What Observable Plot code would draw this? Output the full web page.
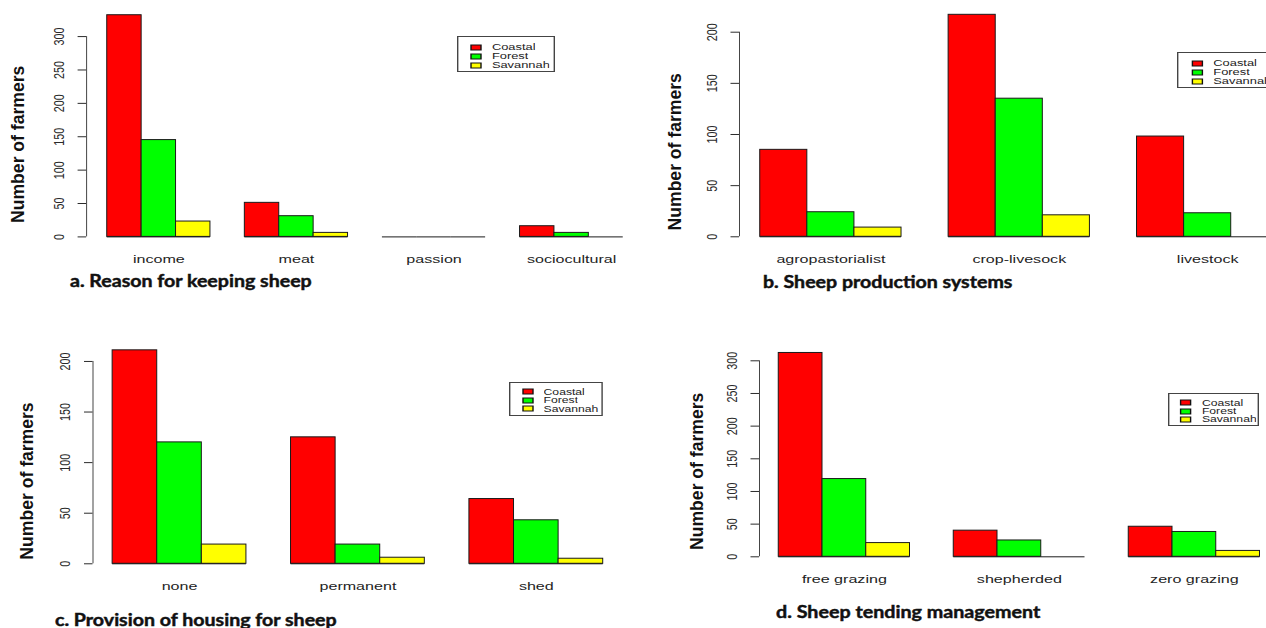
<!DOCTYPE html>
<html><head><meta charset="utf-8">
<script src="https://cdn.jsdelivr.net/npm/d3@7"></script>
<script src="https://cdn.jsdelivr.net/npm/@observablehq/plot@0.6"></script>
<style>
html,body{margin:0;padding:0;background:#fff;overflow:hidden;}
#page{position:relative;width:1266px;height:628px;overflow:hidden;background:#fff;}
.panel{position:absolute;width:800px;}
.panel svg{display:block;overflow:visible;max-width:none !important;}
.title{position:absolute;white-space:nowrap;font-family:Lato,"Open Sans",sans-serif;font-weight:700;color:#111;line-height:1.2;transform-origin:0 0;-webkit-text-stroke:0.45px #111;}
.legbox{position:absolute;border:1px solid #444;background:#fff;box-sizing:border-box;transform-origin:0 0;}
.legbox .lg-swatches{margin:0;font-family:"Liberation Sans",Arial,sans-serif;color:#222;}
.legbox .lg-swatch{display:flex;align-items:center;padding:0;margin:0;height:var(--row);line-height:var(--row);}
.legbox .lg-swatch > svg{overflow:visible;margin-right:8px;}
.legbox .lg-swatch > svg rect{stroke:#111;stroke-width:1;}
</style></head><body><div id="page"></div>
<script>
// ---------- data ----------
const regions = ["Coastal", "Forest", "Savannah"];
const regionColors = ["#ff0000", "#00ff00", "#ffff00"];
const yLabel = "Number of farmers";

const reasonCats = ["income", "meat", "passion", "sociocultural"];
const reasonCoastal = [332, 51, 0, 16];
const reasonForest = [145, 31, 0, 6];
const reasonSavannah = [23, 6, 0, 0];
const reasonTicks = [0, 50, 100, 150, 200, 250, 300];
const reasonTitle = "a. Reason for keeping sheep";

const systemCats = ["agropastorialist", "crop-livesock", "livestock"];
const systemCoastal = [85, 217, 98];
const systemForest = [24, 135, 23];
const systemSavannah = [9, 21, 0];
const systemTicks = [0, 50, 100, 150, 200];
const systemTitle = "b. Sheep production systems";

const housingCats = ["none", "permanent", "shed"];
const housingCoastal = [211, 125, 64];
const housingForest = [120, 19, 43];
const housingSavannah = [19, 6, 5];
const housingTicks = [0, 50, 100, 150, 200];
const housingTitle = "c. Provision of housing for sheep";

const tendingCats = ["free grazing", "shepherded", "zero grazing"];
const tendingCoastal = [312, 40, 46];
const tendingForest = [119, 25, 38];
const tendingSavannah = [21, 0, 9];
const tendingTicks = [0, 50, 100, 150, 200, 250, 300];
const tendingTitle = "d. Sheep tending management";

// ---------- layout ----------
const K = 1.4; // horizontal stretch of the original R text
const layouts = [
  {svgLeft: 0, svgTop: 0, axisX: 86.1, bw: 34.4, zeroY: 236.4, ppu: 0.6677, labelX: 18.3, labelY: 143.8,
   legend: {left: 456.7, top: 36, width: 98.6, height: 36.3, padLeft: 12.3, padTop: 5.5, row: 9, font: 9.2},
   title: {left: 70, baseline: 288.5, width: 241.7}},
  {svgLeft: 640, svgTop: 0, axisX: 739, bw: 47.1, zeroY: 236.3, ppu: 1.023, labelX: 675, labelY: 151.3,
   legend: {left: 1177, top: 51.7, width: 98.6, height: 36, padLeft: 13.7, padTop: 6, row: 9, font: 9.2},
   title: {left: 763.3, baseline: 289, width: 249.4}},
  {svgLeft: 0, svgTop: 300, axisX: 92.5, bw: 44.6, zeroY: 563.3, ppu: 1.0117, labelX: 26.7, labelY: 480.5,
   legend: {left: 509, top: 381.7, width: 93.3, height: 34, padLeft: 12, padTop: 5, row: 8.5, font: 8.7},
   title: {left: 55, baseline: 627, width: 281.7}},
  {svgLeft: 660, svgTop: 300, axisX: 759, bw: 43.75, zeroY: 556.3, ppu: 0.6533, labelX: 696.7, labelY: 470.8,
   legend: {left: 1168, top: 393.3, width: 91.3, height: 33, padLeft: 11.3, padTop: 4.5, row: 8.2, font: 8.7},
   title: {left: 775.7, baseline: 619.3, width: 264.3}}
];

const page = document.getElementById("page");

function stretchTicks(svg) {
  svg.querySelectorAll('g[aria-label$="tick label"] text').forEach(t => {
    const tr = t.getAttribute("transform");
    if (tr && /^translate\(/.test(tr)) {
      t.setAttribute("transform", tr.replace(/^(translate\([^)]*\))/, `$1 scale(${K},1)`));
    } else {
      const x = parseFloat(t.getAttribute("x")) || 0;
      t.setAttribute("transform", `translate(${x},0) scale(${K},1) translate(${-x},0)` + (tr ? " " + tr : ""));
    }
  });
}

function panel(cats, series, ticks, title, L) {
  const rows = [];
  cats.forEach((c, i) => regions.forEach((r, j) => rows.push({cat: c, region: r, value: series[j][i], gi: i, ri: j})));
  const first = 1, last = cats.length * 4;
  const pad = 0.04 * (last - first);
  const lo = first - pad, hi = last + pad;
  const M = d3.max(rows, d => d.value);
  const ylo = -0.04 * M, yhi = 1.04 * M;
  const frameW = (hi - lo) * L.bw;
  const frameH = (yhi - ylo) * L.ppu;
  const frameTop = L.zeroY - yhi * L.ppu;
  const marginTop = frameTop - L.svgTop;
  const marginLeft = L.axisX - L.svgLeft;
  const marginBottom = 30, marginRight = 2;
  const centers = cats.map((c, i) => 4 * i + 2.5);
  const bx1 = d => 1 + 4 * d.gi + d.ri;
  const bx2 = d => 2 + 4 * d.gi + d.ri;
  const W = marginLeft + frameW + marginRight;
  const H = marginTop + frameH + marginBottom;

  const svg = Plot.plot({
    width: W,
    height: H,
    marginLeft, marginTop, marginBottom, marginRight,
    style: {background: "none", overflow: "visible", maxWidth: "none", fontFamily: '"Liberation Sans", Arial, sans-serif'},
    x: {domain: [lo, hi]},
    y: {domain: [ylo, yhi]},
    color: {domain: regions, range: regionColors},
    marks: [
      Plot.rect(rows, {x1: bx1, x2: bx2, y1: 0, y2: "value", fill: "region", stroke: "#1a1a1a", strokeWidth: 1}),
      Plot.ruleY(rows, {x1: bx1, x2: bx2, y: 0, stroke: "#1a1a1a", strokeWidth: 1}),
      Plot.ruleX([lo], {y1: ticks[0], y2: ticks[ticks.length - 1], stroke: "#444"}),
      Plot.axisY({ticks, tickSize: 8.5, tickPadding: 14.3, tickRotate: -90, fontSize: 10.8, color: "#2a2a2a", label: null}),
      Plot.axisX({ticks: centers, tickFormat: d => cats[Math.round((d - 2.5) / 4)], tickSize: 0, tickPadding: 9.5, fontSize: 11.5, color: "#1e1e1e", label: null}),
      Plot.text([yLabel], {frameAnchor: "left", textAnchor: "middle", rotate: -90, dx: L.labelX - L.axisX, dy: L.labelY - (frameTop + frameH / 2),
        fontWeight: "bold", fontSize: 17.6, fill: "#111"})
    ]
  });
  svg.style.width = W + "px";
  svg.style.height = H + "px";
  stretchTicks(svg);
  const holder = document.createElement("div");
  holder.className = "panel";
  holder.style.left = L.svgLeft + "px";
  holder.style.top = L.svgTop + "px";
  holder.appendChild(svg);
  page.appendChild(holder);

  // legend
  const G = L.legend;
  const box = document.createElement("div");
  box.className = "legbox";
  Object.assign(box.style, {
    left: G.left + "px", top: G.top + "px", width: (G.width / K) + "px", height: G.height + "px",
    paddingLeft: (G.padLeft / K) + "px", paddingTop: G.padTop + "px", transform: `scaleX(${K})`
  });
  box.style.setProperty("--row", G.row + "px");
  const lg = Plot.legend({color: {domain: regions, range: regionColors}, legend: "swatches", columns: 1,
    swatchWidth: 10 / K, swatchHeight: 5, className: "lg"});
  lg.style.fontSize = G.font + "px";
  box.appendChild(lg);
  page.appendChild(box);

  // title
  const T = L.title;
  const t = document.createElement("div");
  t.className = "title";
  t.textContent = title;
  const fs = 16.5;
  t.style.fontSize = fs + "px";
  t.style.left = T.left + "px";
  t.style.top = (T.baseline - 0.987 * fs) + "px";
  page.appendChild(t);
  const w = t.getBoundingClientRect().width;
  t.style.transform = `scaleX(${T.width / w})`;
}

panel(reasonCats, [reasonCoastal, reasonForest, reasonSavannah], reasonTicks, reasonTitle, layouts[0]);
panel(systemCats, [systemCoastal, systemForest, systemSavannah], systemTicks, systemTitle, layouts[1]);
panel(housingCats, [housingCoastal, housingForest, housingSavannah], housingTicks, housingTitle, layouts[2]);
panel(tendingCats, [tendingCoastal, tendingForest, tendingSavannah], tendingTicks, tendingTitle, layouts[3]);
</script></body></html>
